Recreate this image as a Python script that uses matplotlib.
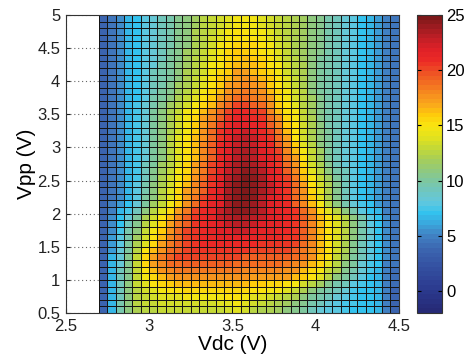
import numpy as np
import matplotlib
matplotlib.use("Agg")
import matplotlib.pyplot as plt
from matplotlib.colors import LinearSegmentedColormap

# Vdc cell edges (V) and Vpp cell edges (V)
vdc_edges = np.arange(2.70, 4.5001, 0.05)
vpp_edges = np.arange(0.5, 5.0001, 0.1)

# Measured values, rows listed from Vpp = 5 (top) down to Vpp = 0.5 (bottom)
rows_top_to_bottom = [
    [3.5,4.5,5.5,6.5,7,8,8.5,9,9.5,10.5,11,11.5,12.5,13,13.5,14,14.5,14.5,14.5,14,13.5,13,12.5,12,11.5,11,10.5,9.5,9,8.5,8,7,6.5,6,5,4.5],
    [3.5,4.5,5.5,6.5,7,8,8.5,9,9.5,10.5,11,11.5,12.5,13,13.5,14,14.5,14.5,14.5,14,13.5,13,12.5,12,11.5,11,10.5,9.5,9,8.5,8,7,6.5,6,5,4.5],
    [3.5,4.5,5.5,6.5,7,8,8.5,9,9.5,10.5,11,12,12.5,13,14,14.5,15,15,14.5,14.5,14,13,12.5,12,11.5,11,10.5,9.5,9,8.5,8,7,6.5,6,5,4.5],
    [3.5,4.5,5.5,6.5,7,8,8.5,9,9.5,10.5,11,12,12.5,13.5,14,14.5,15,15,15,14.5,14,13.5,12.5,12,11.5,11,10.5,9.5,9,8.5,8,7,6.5,6,5,4.5],
    [3.5,4.5,5.5,6.5,7,8,8.5,9,9.5,10.5,11,12,12.5,13.5,14.5,15,15.5,15.5,15.5,15,14.5,13.5,13,12,11.5,11,10.5,9.5,9,8.5,8,7,6.5,6,5,4.5],
    [3.5,4.5,5.5,6.5,7,8,8.5,9,10,10.5,11.5,12,13,14,14.5,15.5,16,16,15.5,15,14.5,14,13,12,11.5,11,10.5,9.5,9,8.5,8,7,6.5,6,5,4.5],
    [3.5,4.5,5.5,6.5,7,8,8.5,9,10,10.5,11.5,12.5,13,14,15,15.5,16,16.5,16,15.5,15,14,13,12.5,11.5,11,10,9.5,9,8.5,8,7,6.5,6,5,4.5],
    [3.5,4.5,5.5,6.5,7,8,8.5,9.5,10,11,11.5,12.5,13.5,14.5,15,16,16.5,16.5,16.5,16,15,14.5,13.5,12.5,12,11,10,9.5,9,8.5,8,7,6.5,6,5,4.5],
    [3.5,4.5,5.5,6.5,7,8,9,9.5,10,11,12,12.5,13.5,14.5,15.5,16,17,17,16.5,16,15.5,14.5,13.5,12.5,12,11,10,9.5,9,8.5,8,7,6.5,6,5,4.5],
    [3.5,4.5,5.5,6.5,7,8,9,9.5,10,11,12,13,14,15,16,16.5,17,17.5,17,16.5,16,15,14,13,12,11,10,9.5,9,8.5,8,7,6.5,6,5,4.5],
    [3.5,4.5,5.5,6.5,7,8,9,9.5,10.5,11.5,12,13,14,15,16,17,17.5,18,17.5,17,16,15,14,13,12,11,10,9.5,9,8.5,8,7,6.5,6,5,4.5],
    [3.5,4.5,5.5,6.5,7,8,9,10,10.5,11.5,12.5,13.5,14.5,15.5,16.5,17.5,18,18.5,18,17.5,16.5,15.5,14.5,13.5,12.5,11,10,9.5,9,8.5,8,7,6.5,6,5,4.5],
    [3.5,4.5,5.5,6.5,7,8,9.5,10,11,12,13,14,15,16,17,18,19,19,18.5,18,17,15.5,14.5,13.5,12.5,11.5,10.5,9.5,9,8.5,8,7,6.5,6,5,4.5],
    [3.5,4.5,5.5,6.5,7.5,8.5,9.5,10.5,11.5,12.5,13.5,14.5,15.5,16.5,18,19,20,20,19.5,19,17.5,16,15,14,12.5,11.5,10.5,9.5,9,8.5,8,7,6.5,6,5,4.5],
    [3.5,4.5,5.5,6.5,7.5,8.5,10,11,12,13,14.5,15,16.5,17.5,19,20,21,21,20.5,20,18,16.5,15,14.5,13,11.5,10.5,9.5,9,8.5,8,7,6.5,6,5,4.5],
    [3.5,4.5,5.5,6.5,7.5,8.5,10,11,12,13.5,14.5,15.5,17,18,19.5,20.5,21.5,21.5,21,20.5,19,17.5,15.5,14.5,13,12,10.5,9.5,9,8.5,8,7,6.5,6,5,4.5],
    [3.5,4.5,5.5,6.5,7.5,8.5,10,11,12,13.5,14.5,16,17,18.5,20,21,22,22,21.5,21,19.5,18,16,15,13.5,12,11,9.5,9,8.5,8,7,6.5,6,5,4.5],
    [3.5,4.5,5.5,6.5,7.5,8.5,10,11,12,13.5,14.5,16,17.5,19,20.5,21.5,22,22.5,22,21,20,18.5,16.5,15,13.5,12,11,10,9,8.5,8,7,6.5,6,5,4.5],
    [3.5,4.5,5.5,6.5,7.5,8.5,10,11,12.5,14,15,16.5,17.5,19,20.5,21.5,22.5,23,22.5,21.5,20.5,19,17,15,13.5,12,11,10,9,8.5,8,7,6.5,6,5,4.5],
    [3.5,4.5,5.5,6.5,7.5,8.5,10,11,12.5,14,15,16.5,18,19.5,21,22,22.5,23,22.5,21.5,21,19.5,17.5,16,14,12.5,11,10,9,8.5,8,7,6.5,6,5,4.5],
    [3.5,4.5,5.5,6.5,7.5,8.5,10,11,12.5,14,15,16.5,18,19.5,21,22,23,23.5,23,22,21,20,18,16.5,14.5,13,11.5,10,9,8.5,8,7,6.5,6,5,4.5],
    [3.5,4.5,5.5,6.5,7.5,8.5,10,11,12.5,14,15,16.5,18,19.5,21,22,23,23.5,23,22,21.5,20.5,18.5,17,15,13,11.5,10,9,8.5,8,7,6.5,6,5,4.5],
    [3.5,4.5,5.5,6.5,7.5,9,10,11.5,12.5,14,15.5,17,18.5,20,21,22.5,23.5,24,23.5,22.5,21.5,20.5,19,17.5,15.5,13.5,12,10.5,9,8.5,8,7,6.5,6,5,4.5],
    [3.5,4.5,5.5,6.5,7.5,9,10.5,11.5,13,14.5,15.5,17,18.5,20,21.5,22.5,23.5,24.5,24,23,22,21,19.5,18,16,14,12.5,11,9.5,9,8,7,6.5,6,5,4.5],
    [3.5,4.5,5.5,6.5,7.5,9,10.5,12,13.5,14.5,16,17.5,19,20.5,21.5,23,24,25,24.5,23.5,22,21,20,18.5,16.5,14.5,13,11.5,10,9,8,7,6.5,6,5,4.5],
    [3.5,4.5,5.5,6.5,8,9.5,11,12,13.5,15,16.5,18,19.5,20.5,22,23.5,24.5,25,24.5,23.5,22.5,21.5,20.5,19,17,15,13.5,12,10.5,9,8,7,6.5,6,5,4.5],
    [3.5,4.5,5.5,6.5,8,9.5,11,12.5,14,15.5,17,18,19.5,21,22,23.5,24.5,25,24.5,23.5,22.5,21.5,20.5,19,17.5,15.5,14,12,10.5,9,8,7,6.5,6,5,4.5],
    [3.5,4.5,5.5,6.5,8,10,11,12.5,14,15.5,17,18.5,20,21,22,23.5,24.5,25,24.5,23,22,21.5,20.5,19,17.5,16,14,12,10.5,9,8,7,6.5,6,5,4.5],
    [3.5,5,6,7,8.5,10,11.5,13,14.5,16,17.5,19,20.5,21.5,22,23.5,24.5,24.5,24,23,22,21.5,21,19.5,18,16.5,14.5,12.5,11,9.5,8.5,7.5,7,6,5,4.5],
    [3.5,5,6.5,7.5,9,11,12.5,14,15.5,17,18.5,20,21,21.5,22.5,23.5,24.5,24.5,24,23,22,21.5,21,20.5,19,17.5,15.5,14,12.5,11,9.5,8,7,6.5,5,4.5],
    [3.5,5.5,7,8.5,10,12,13.5,15,16.5,18,19.5,20.5,21,21.5,22.5,23,23.5,23.5,23,22.5,22,21.5,21,20.5,19.5,18,16.5,15,14,12.5,11,9.5,8,7,5.5,4.5],
    [3.5,5.5,7,9,10.5,12.5,14,15.5,17,18.5,19.5,20.5,21,21.5,22,22.5,23,23,22.5,22,21.5,21.5,21,20.5,19.5,18,16.5,15,14,12.5,11,9.5,8,7,5.5,4.5],
    [3.5,5.5,7.5,9.5,11,13,14.5,16,17.5,19,20,20.5,21,21.5,22,22,22.5,22.5,22,21.5,21.5,21,21,20.5,19.5,18,16.5,15,14,12.5,11,9.5,8.5,7,5.5,4.5],
    [3.5,6,8,9.5,11.5,13.5,15,16.5,18,19,20,20.5,21,21,21.5,21.5,21.5,21.5,21.5,21,21,21,20.5,20.5,19.5,18,16.5,15,14,12.5,11,9.5,8.5,7,5.5,4.5],
    [3.5,6,8,10,12,14,15.5,17,18.5,19.5,20,20.5,21,21,21,21,21,21,21,20.5,20.5,20.5,20.5,20,19,18,16.5,15,13.5,12,10.5,9,8,7,5.5,4.5],
    [3.5,6,8.5,10,12.5,15,16.5,17.5,19,19.5,20,20.5,20.5,20.5,20.5,20.5,20.5,20.5,20,20,20,20,20,19.5,18.5,17.5,16.5,15,13.5,12,10.5,9,8,7,5.5,4.5],
    [3.5,6.5,8.5,10.5,13,15.5,17,18.5,19.5,20,20,20,20,20,20,20,20,19.5,19.5,19.5,19.5,19.5,19.5,19,18.5,17.5,16,15,13,11.5,10,9,8,7,5.5,4.5],
    [3.5,6.5,8.5,10.5,13,15.5,17,18,19,19,19.5,19.5,19.5,19.5,19.5,19.5,19,19,19,19,19,19,18.5,18,17.5,16.5,15.5,14,12.5,11,10,8.5,7.5,7,5,4.5],
    [3.5,6.5,9,10.5,13,15,16.5,17.5,18,18.5,18.5,18.5,18.5,18.5,18.5,18.5,18.5,18,18,18,18,18,17.5,17.5,16.5,15.5,14.5,13,12,10.5,9.5,8.5,7.5,6.5,5,4],
    [3.5,6.5,9,10.5,13,14.5,15.5,16.5,17,17.5,17.5,17.5,17.5,17.5,17.5,17.5,17.5,17.5,17,17,17,17,17,16.5,16,15,14,12.5,11,10,9,8,7,6.5,5,4],
    [3.5,6.5,9,11,13,14,15,15.5,16,16.5,16.5,16.5,16.5,16.5,16.5,16.5,16.5,16.5,16,16,15.5,15.5,15,14.5,13.5,12.5,11.5,10.5,9.5,9,8,7.5,7,6.5,5,4],
    [3.5,6.5,9,11,12.5,13.5,14,14.5,15,15,15.5,15.5,15.5,15.5,15.5,15.5,15.5,15.5,15,15,14.5,14.5,14,13,12,11,10,9.5,9,8.5,7.5,7,7,6.5,5,3.5],
    [3.5,6.5,9,11,12.5,13,13.5,14,14,14,14.5,14.5,14.5,14.5,14.5,15,15,14.5,14,14,13.5,13,12.5,12,11,10,9.5,9,8.5,8,7.5,7,7,6.5,5,3.5],
    [3.5,6.5,9.5,11,12.5,13,13,13.5,13.5,13.5,13.5,13.5,13.5,13.5,14,14,14.5,14,13.5,13,12.5,12,11.5,11,10.5,9.5,9,8.5,8,7.5,7.5,7,7,6.5,5,3.5],
    [3.5,6.5,9.5,11,12,12.5,12.5,13,13,13,13,13,13,13,13,13.5,14,13.5,12.5,12,12,11.5,11,10.5,10,9,8.5,8,8,7.5,7,7,7,6.5,5,3.5],
]
for k, r in enumerate(rows_top_to_bottom):
    if len(r) != 36:
        raise ValueError(f"row {k} has {len(r)} values")
Z = np.array(rows_top_to_bottom)[::-1]

cbar_ticks = [0, 5, 10, 15, 20, 25]
x_ticks = [2.5, 3, 3.5, 4, 4.5]
y_ticks = [0.5, 1, 1.5, 2, 2.5, 3, 3.5, 4, 4.5, 5]
vmin, vmax = -2, 25

anchors = [(-2, "#262a76"), (0, "#2b3a8f"), (2, "#3450a0"), (3.5, "#3b62ae"),
           (5, "#4183c4"), (6, "#3aa6dc"), (7, "#33c2ee"), (8, "#62c8de"),
           (9, "#6fc6c0"), (10, "#7ec79e"), (11, "#92c97a"), (12, "#a9cf55"),
           (13, "#c5d935"), (14, "#e4e21c"), (15, "#f9e511"), (16, "#fecb0b"),
           (17, "#f9a61c"), (18, "#f68b1f"), (19, "#f26c22"), (20, "#ee4f24"),
           (21, "#ec2a26"), (22, "#e02127"), (23, "#c31f26"), (24, "#a01c21"),
           (25, "#7d1819")]
cmap = LinearSegmentedColormap.from_list(
    "mjet", [((v - vmin) / (vmax - vmin), c) for v, c in anchors], N=64)

plt.rcParams['font.family'] = ['Liberation Sans', 'DejaVu Sans']
fig = plt.figure(figsize=(4.67, 3.57), dpi=100)
ax = fig.add_axes([0.141, 0.123, 0.713, 0.835])
cax = fig.add_axes([0.893, 0.123, 0.0535, 0.835])

mesh = ax.pcolormesh(vdc_edges, vpp_edges, Z, cmap=cmap, vmin=vmin, vmax=vmax,
                     edgecolors='#151515', linewidth=0.72, zorder=2)
ax.set_xlim(2.5, 4.5)
ax.set_ylim(0.5, 5)
ax.set_xticks(x_ticks)
ax.set_xticklabels([f"{t:g}" for t in x_ticks])
ax.set_yticks(y_ticks)
ax.set_yticklabels([f"{t:g}" for t in y_ticks])
ax.grid(True, axis='both', linestyle=(0, (1, 2.5)), color='#666666', linewidth=0.8, zorder=0)
ax.set_axisbelow(True)
ax.tick_params(direction='in', length=3, labelsize=12, colors='#222222', pad=4)
for s in ax.spines.values():
    s.set_color('#333333')
    s.set_linewidth(0.8)
ax.set_xlabel("Vdc (V)", fontsize=15, labelpad=1)
ax.set_ylabel("Vpp (V)", fontsize=15, labelpad=1)

cb = fig.colorbar(mesh, cax=cax, ticks=cbar_ticks)
cb.outline.set_linewidth(0.8)
cb.outline.set_edgecolor('#333333')
cax.tick_params(direction='in', length=3, labelsize=12, left=True, right=True, pad=3)

fig.savefig("out.png", dpi=100)
